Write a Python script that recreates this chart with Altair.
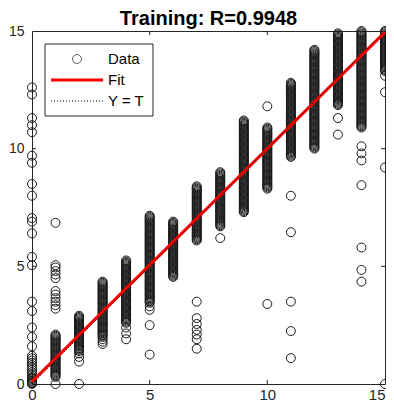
import altair as alt
import pandas as pd

# ---- data (target T = column, output Y) ----
y_t0 = [0.0, 0.03, 0.06, 0.1, 0.15, 0.2, 0.25, 0.3, 0.4, 0.5, 0.6, 0.7, 0.8, 0.9, 1.0, 1.1, 1.2, 1.6, 2.0, 2.4,
        3.1, 3.5, 5.05, 5.4, 6.4, 6.9, 7.05, 8.0, 8.5, 9.4, 9.7, 10.7, 11.0, 11.3, 12.3, 12.6]
y_t1 = [0.0, 0.3, 0.35, 0.4, 0.45, 0.5, 0.55, 0.6, 0.65, 0.7, 0.75, 0.8, 0.85, 0.9, 0.95, 1.0, 1.05, 1.1, 1.15,
        1.2, 1.25, 1.3, 1.35, 1.4, 1.45, 1.5, 1.55, 1.6, 1.65, 1.7, 1.75, 1.8, 1.85, 1.9, 1.95, 2.0, 2.05, 2.1,
        3.2, 3.35, 3.5, 3.65, 3.8, 3.95, 4.5, 4.65, 4.8, 4.95, 5.05, 6.85]
y_t2 = [0.0, 0.95, 1.15, 1.3, 1.4, 1.45, 1.5, 1.55, 1.6, 1.65, 1.7, 1.75, 1.8, 1.85, 1.9, 1.95, 2.0, 2.05, 2.1,
        2.15, 2.2, 2.25, 2.3, 2.35, 2.4, 2.45, 2.5, 2.55, 2.6, 2.65, 2.7, 2.75, 2.8, 2.85, 2.9]
y_t3 = [1.7, 1.8, 1.9, 2.0, 2.05, 2.1, 2.15, 2.2, 2.25, 2.3, 2.35, 2.4, 2.45, 2.5, 2.55, 2.6, 2.65, 2.7, 2.75,
        2.8, 2.85, 2.9, 2.95, 3.0, 3.05, 3.1, 3.15, 3.2, 3.25, 3.3, 3.35, 3.4, 3.45, 3.5, 3.55, 3.6, 3.65, 3.7,
        3.75, 3.8, 3.85, 3.9, 3.95, 4.0, 4.05, 4.1, 4.15, 4.2, 4.25, 4.3, 4.35]
y_t4 = [1.9, 2.15, 2.4, 2.6, 2.65, 2.7, 2.75, 2.8, 2.85, 2.9, 2.95, 3.0, 3.05, 3.1, 3.15, 3.2, 3.25, 3.3, 3.35,
        3.4, 3.45, 3.5, 3.55, 3.6, 3.65, 3.7, 3.75, 3.8, 3.85, 3.9, 3.95, 4.0, 4.05, 4.1, 4.15, 4.2, 4.25, 4.3,
        4.35, 4.4, 4.45, 4.5, 4.55, 4.6, 4.65, 4.7, 4.75, 4.8, 4.85, 4.9, 4.95, 5.0, 5.05, 5.1, 5.15, 5.2, 5.25]
y_t5 = [1.25, 2.5, 3.15, 3.3, 3.45, 3.5, 3.55, 3.6, 3.65, 3.7, 3.75, 3.8, 3.85, 3.9, 3.95, 4.0, 4.05, 4.1, 4.15,
        4.2, 4.25, 4.3, 4.35, 4.4, 4.45, 4.5, 4.55, 4.6, 4.65, 4.7, 4.75, 4.8, 4.85, 4.9, 4.95, 5.0, 5.05, 5.1,
        5.15, 5.2, 5.25, 5.3, 5.35, 5.4, 5.45, 5.5, 5.55, 5.6, 5.65, 5.7, 5.75, 5.8, 5.85, 5.9, 5.95, 6.0, 6.05,
        6.1, 6.15, 6.2, 6.25, 6.3, 6.35, 6.4, 6.45, 6.5, 6.55, 6.6, 6.65, 6.7, 6.75, 6.8, 6.85, 6.9, 6.95, 7.0,
        7.05, 7.1, 7.15]
y_t6 = [4.55, 4.6, 4.65, 4.7, 4.75, 4.8, 4.85, 4.9, 4.95, 5.0, 5.05, 5.1, 5.15, 5.2, 5.25, 5.3, 5.35, 5.4, 5.45,
        5.5, 5.55, 5.6, 5.65, 5.7, 5.75, 5.8, 5.85, 5.9, 5.95, 6.0, 6.05, 6.1, 6.15, 6.2, 6.25, 6.3, 6.35, 6.4,
        6.45, 6.5, 6.55, 6.6, 6.65, 6.7, 6.75, 6.8, 6.85, 6.9]
y_t7 = [1.5, 1.9, 2.1, 2.3, 2.55, 2.8, 3.5, 6.1, 6.15, 6.2, 6.25, 6.3, 6.35, 6.4, 6.45, 6.5, 6.55, 6.6, 6.65,
        6.7, 6.75, 6.8, 6.85, 6.9, 6.95, 7.0, 7.05, 7.1, 7.15, 7.2, 7.25, 7.3, 7.35, 7.4, 7.45, 7.5, 7.55, 7.6,
        7.65, 7.7, 7.75, 7.8, 7.85, 7.9, 7.95, 8.0, 8.05, 8.1, 8.15, 8.2, 8.25, 8.3, 8.35, 8.4]
y_t8 = [6.2, 6.7, 6.75, 6.8, 6.85, 6.9, 6.95, 7.0, 7.05, 7.1, 7.15, 7.2, 7.25, 7.3, 7.35, 7.4, 7.45, 7.5, 7.55,
        7.6, 7.65, 7.7, 7.75, 7.8, 7.85, 7.9, 7.95, 8.0, 8.05, 8.1, 8.15, 8.2, 8.25, 8.3, 8.35, 8.4, 8.45, 8.5,
        8.55, 8.6, 8.65, 8.7, 8.75, 8.8, 8.85, 8.9, 8.95, 9.0]
y_t9 = [7.3, 7.35, 7.4, 7.45, 7.5, 7.55, 7.6, 7.65, 7.7, 7.75, 7.8, 7.85, 7.9, 7.95, 8.0, 8.05, 8.1, 8.15, 8.2,
        8.25, 8.3, 8.35, 8.4, 8.45, 8.5, 8.55, 8.6, 8.65, 8.7, 8.75, 8.8, 8.85, 8.9, 8.95, 9.0, 9.05, 9.1, 9.15,
        9.2, 9.25, 9.3, 9.35, 9.4, 9.45, 9.5, 9.55, 9.6, 9.65, 9.7, 9.75, 9.8, 9.85, 9.9, 9.95, 10.0, 10.05,
        10.1, 10.15, 10.2, 10.25, 10.3, 10.35, 10.4, 10.45, 10.5, 10.55, 10.6, 10.65, 10.7, 10.75, 10.8, 10.85,
        10.9, 10.95, 11.0, 11.05, 11.1, 11.15, 11.2]
y_t10 = [3.4, 8.3, 8.35, 8.4, 8.45, 8.5, 8.55, 8.6, 8.65, 8.7, 8.75, 8.8, 8.85, 8.9, 8.95, 9.0, 9.05, 9.1, 9.15,
         9.2, 9.25, 9.3, 9.35, 9.4, 9.45, 9.5, 9.55, 9.6, 9.65, 9.7, 9.75, 9.8, 9.85, 9.9, 9.95, 10.0, 10.05,
         10.1, 10.15, 10.2, 10.25, 10.3, 10.35, 10.4, 10.45, 10.5, 10.55, 10.6, 10.65, 10.7, 10.75, 10.8, 10.85,
         10.9, 11.8]
y_t11 = [1.1, 2.25, 3.5, 6.45, 8.0, 9.65, 9.7, 9.75, 9.8, 9.85, 9.9, 9.95, 10.0, 10.05, 10.1, 10.15, 10.2,
         10.25, 10.3, 10.35, 10.4, 10.45, 10.5, 10.55, 10.6, 10.65, 10.7, 10.75, 10.8, 10.85, 10.9, 10.95, 11.0,
         11.05, 11.1, 11.15, 11.2, 11.25, 11.3, 11.35, 11.4, 11.45, 11.5, 11.55, 11.6, 11.65, 11.7, 11.75, 11.8,
         11.85, 11.9, 11.95, 12.0, 12.05, 12.1, 12.15, 12.2, 12.25, 12.3, 12.35, 12.4, 12.45, 12.5, 12.55, 12.6,
         12.65, 12.7, 12.75, 12.8]
y_t12 = [10.0, 10.05, 10.1, 10.15, 10.2, 10.25, 10.3, 10.35, 10.4, 10.45, 10.5, 10.55, 10.6, 10.65, 10.7,
         10.75, 10.8, 10.85, 10.9, 10.95, 11.0, 11.05, 11.1, 11.15, 11.2, 11.25, 11.3, 11.35, 11.4, 11.45, 11.5,
         11.55, 11.6, 11.65, 11.7, 11.75, 11.8, 11.85, 11.9, 11.95, 12.0, 12.05, 12.1, 12.15, 12.2, 12.25, 12.3,
         12.35, 12.4, 12.45, 12.5, 12.55, 12.6, 12.65, 12.7, 12.75, 12.8, 12.85, 12.9, 12.95, 13.0, 13.05, 13.1,
         13.15, 13.2, 13.25, 13.3, 13.35, 13.4, 13.45, 13.5, 13.55, 13.6, 13.65, 13.7, 13.75, 13.8, 13.85, 13.9,
         13.95, 14.0, 14.05, 14.1, 14.15, 14.2]
y_t13 = [10.6, 11.3, 11.85, 11.9, 11.95, 12.0, 12.05, 12.1, 12.15, 12.2, 12.25, 12.3, 12.35, 12.4, 12.45, 12.5,
         12.55, 12.6, 12.65, 12.7, 12.75, 12.8, 12.85, 12.9, 12.95, 13.0, 13.05, 13.1, 13.15, 13.2, 13.25, 13.3,
         13.35, 13.4, 13.45, 13.5, 13.55, 13.6, 13.65, 13.7, 13.75, 13.8, 13.85, 13.9, 13.95, 14.0, 14.05, 14.1,
         14.15, 14.2, 14.25, 14.3, 14.35, 14.4, 14.45, 14.5, 14.55, 14.6, 14.65, 14.7, 14.75, 14.8, 14.85, 14.9]
y_t14 = [4.35, 4.85, 5.8, 8.45, 9.5, 9.8, 10.1, 10.9, 10.95, 11.0, 11.05, 11.1, 11.15, 11.2, 11.25, 11.3, 11.35,
         11.4, 11.45, 11.5, 11.55, 11.6, 11.65, 11.7, 11.75, 11.8, 11.85, 11.9, 11.95, 12.0, 12.05, 12.1, 12.15,
         12.2, 12.25, 12.3, 12.35, 12.4, 12.45, 12.5, 12.55, 12.6, 12.65, 12.7, 12.75, 12.8, 12.85, 12.9, 12.95,
         13.0, 13.05, 13.1, 13.15, 13.2, 13.25, 13.3, 13.35, 13.4, 13.45, 13.5, 13.55, 13.6, 13.65, 13.7, 13.75,
         13.8, 13.85, 13.9, 13.95, 14.0, 14.05, 14.1, 14.15, 14.2, 14.25, 14.3, 14.35, 14.4, 14.45, 14.5, 14.55,
         14.6, 14.65, 14.7, 14.75, 14.8, 14.85, 14.9, 14.95, 15.0]
y_t15 = [0.0, 9.2, 12.4, 13.1, 13.3, 13.35, 13.4, 13.45, 13.5, 13.55, 13.6, 13.65, 13.7, 13.75, 13.8, 13.85,
         13.9, 13.95, 14.0, 14.05, 14.1, 14.15, 14.2, 14.25, 14.3, 14.35, 14.4, 14.45, 14.5, 14.55, 14.6, 14.65,
         14.7, 14.75, 14.8, 14.85, 14.9, 14.95, 15.0]

columns = [y_t0, y_t1, y_t2, y_t3, y_t4, y_t5, y_t6, y_t7, y_t8, y_t9, y_t10, y_t11, y_t12, y_t13, y_t14, y_t15]

fit_t = [0, 15]
fit_y = [0.1, 14.95]
ident_t = [0, 15]
ident_y = [0, 15]
axis_ticks = [0, 5, 10, 15]
inner_ticks = [5, 10]
legend_labels = ["Data", "Fit", "Y = T"]
title_text = "Training: R=0.9948"

points = pd.DataFrame([{"T": t, "Y": y} for t, ys in enumerate(columns) for y in ys])
fit_df = pd.DataFrame({"T": fit_t, "Y": fit_y})
ident_df = pd.DataFrame({"T": ident_t, "Y": ident_y})
tick_df = pd.DataFrame({"v": inner_ticks})

FONT = "Liberation Sans"
AX = "#262626"
PT = "#1a1a1a"
W = 353
H = 353

xs = alt.Scale(domain=[0, 15], nice=False, zero=False)
ys = alt.Scale(domain=[0, 15], nice=False, zero=False)

x_axis = alt.Axis(values=axis_ticks, grid=False, ticks=False, domain=False, labelFont=FONT,
                  labelFontSize=15, labelColor=AX, labelPadding=3, title=None, labelFlush=False,
                  labelAlign={"condition": {"test": "datum.value >= 15", "value": "right"}, "value": "center"})
y_axis = alt.Axis(values=axis_ticks, grid=False, ticks=False, domain=False, labelFont=FONT,
                  labelFontSize=14, labelColor=AX, labelPadding=8, title=None, labelFlush=False)


def X(f):
    return alt.X(f, scale=xs, axis=x_axis)


def Y(f):
    return alt.Y(f, scale=ys, axis=y_axis)


pts = alt.Chart(points).mark_point(shape="circle", filled=False, size=80, stroke=PT,
                                   strokeWidth=1, opacity=1, clip=False).encode(x=X("T:Q"), y=Y("Y:Q"))

fit = alt.Chart(fit_df).mark_line(color="#ff0000", strokeWidth=3).encode(x=X("T:Q"), y=Y("Y:Q"))

ident = alt.Chart(ident_df).mark_line(color="#000000", strokeWidth=1, strokeDash=[1, 2]).encode(
    x=X("T:Q"), y=Y("Y:Q"))

tick_b = alt.Chart(tick_df).mark_rule(color=AX, strokeWidth=1).encode(
    x=X("v:Q"), y=alt.value(H), y2=alt.value(H - 4))
tick_t = alt.Chart(tick_df).mark_rule(color=AX, strokeWidth=1).encode(
    x=X("v:Q"), y=alt.value(0), y2=alt.value(4))
tick_l = alt.Chart(tick_df).mark_rule(color=AX, strokeWidth=1).encode(
    y=Y("v:Q"), x=alt.value(0), x2=alt.value(4))
tick_r = alt.Chart(tick_df).mark_rule(color=AX, strokeWidth=1).encode(
    y=Y("v:Q"), x=alt.value(W), x2=alt.value(W - 4))

one = alt.Data(values=[{"k": 0}])
leg_box = alt.Chart(one).mark_rect(fill="white", stroke=AX, strokeWidth=1).encode(
    x=alt.value(13), x2=alt.value(121), y=alt.value(13), y2=alt.value(85))
leg_pt = alt.Chart(one).mark_point(shape="circle", filled=False, size=80, stroke=PT,
                                   strokeWidth=1).encode(x=alt.value(45), y=alt.value(28))
leg_fit = alt.Chart(one).mark_rule(color="#ff0000", strokeWidth=3).encode(
    x=alt.value(19), x2=alt.value(71), y=alt.value(49))
leg_id = alt.Chart(one).mark_rule(color="#000000", strokeWidth=1, strokeDash=[1, 2]).encode(
    x=alt.value(19), x2=alt.value(71), y=alt.value(70))
leg_texts = [
    alt.Chart(one).mark_text(align="left", baseline="middle", font=FONT, fontSize=15, color="#000000").encode(
        x=alt.value(76), y=alt.value(yy), text=alt.value(lbl))
    for lbl, yy in zip(legend_labels, [28, 49, 70])
]

chart = alt.layer(pts, fit, ident, tick_b, tick_t, tick_l, tick_r,
                  leg_box, leg_pt, leg_fit, leg_id, *leg_texts).properties(
    width=W, height=H,
    background="white",
    autosize=alt.AutoSizeParams(type="none"),
    padding={"left": 24, "top": 23, "right": 1, "bottom": 18},
    title=alt.TitleParams(title_text, font=FONT, fontSize=20, fontWeight="bold", color="#000000",
                          offset=-5, anchor="middle"),
).configure_view(stroke=AX, strokeWidth=1)

chart.save("out.html", embed_options={"renderer": "svg", "actions": False})
